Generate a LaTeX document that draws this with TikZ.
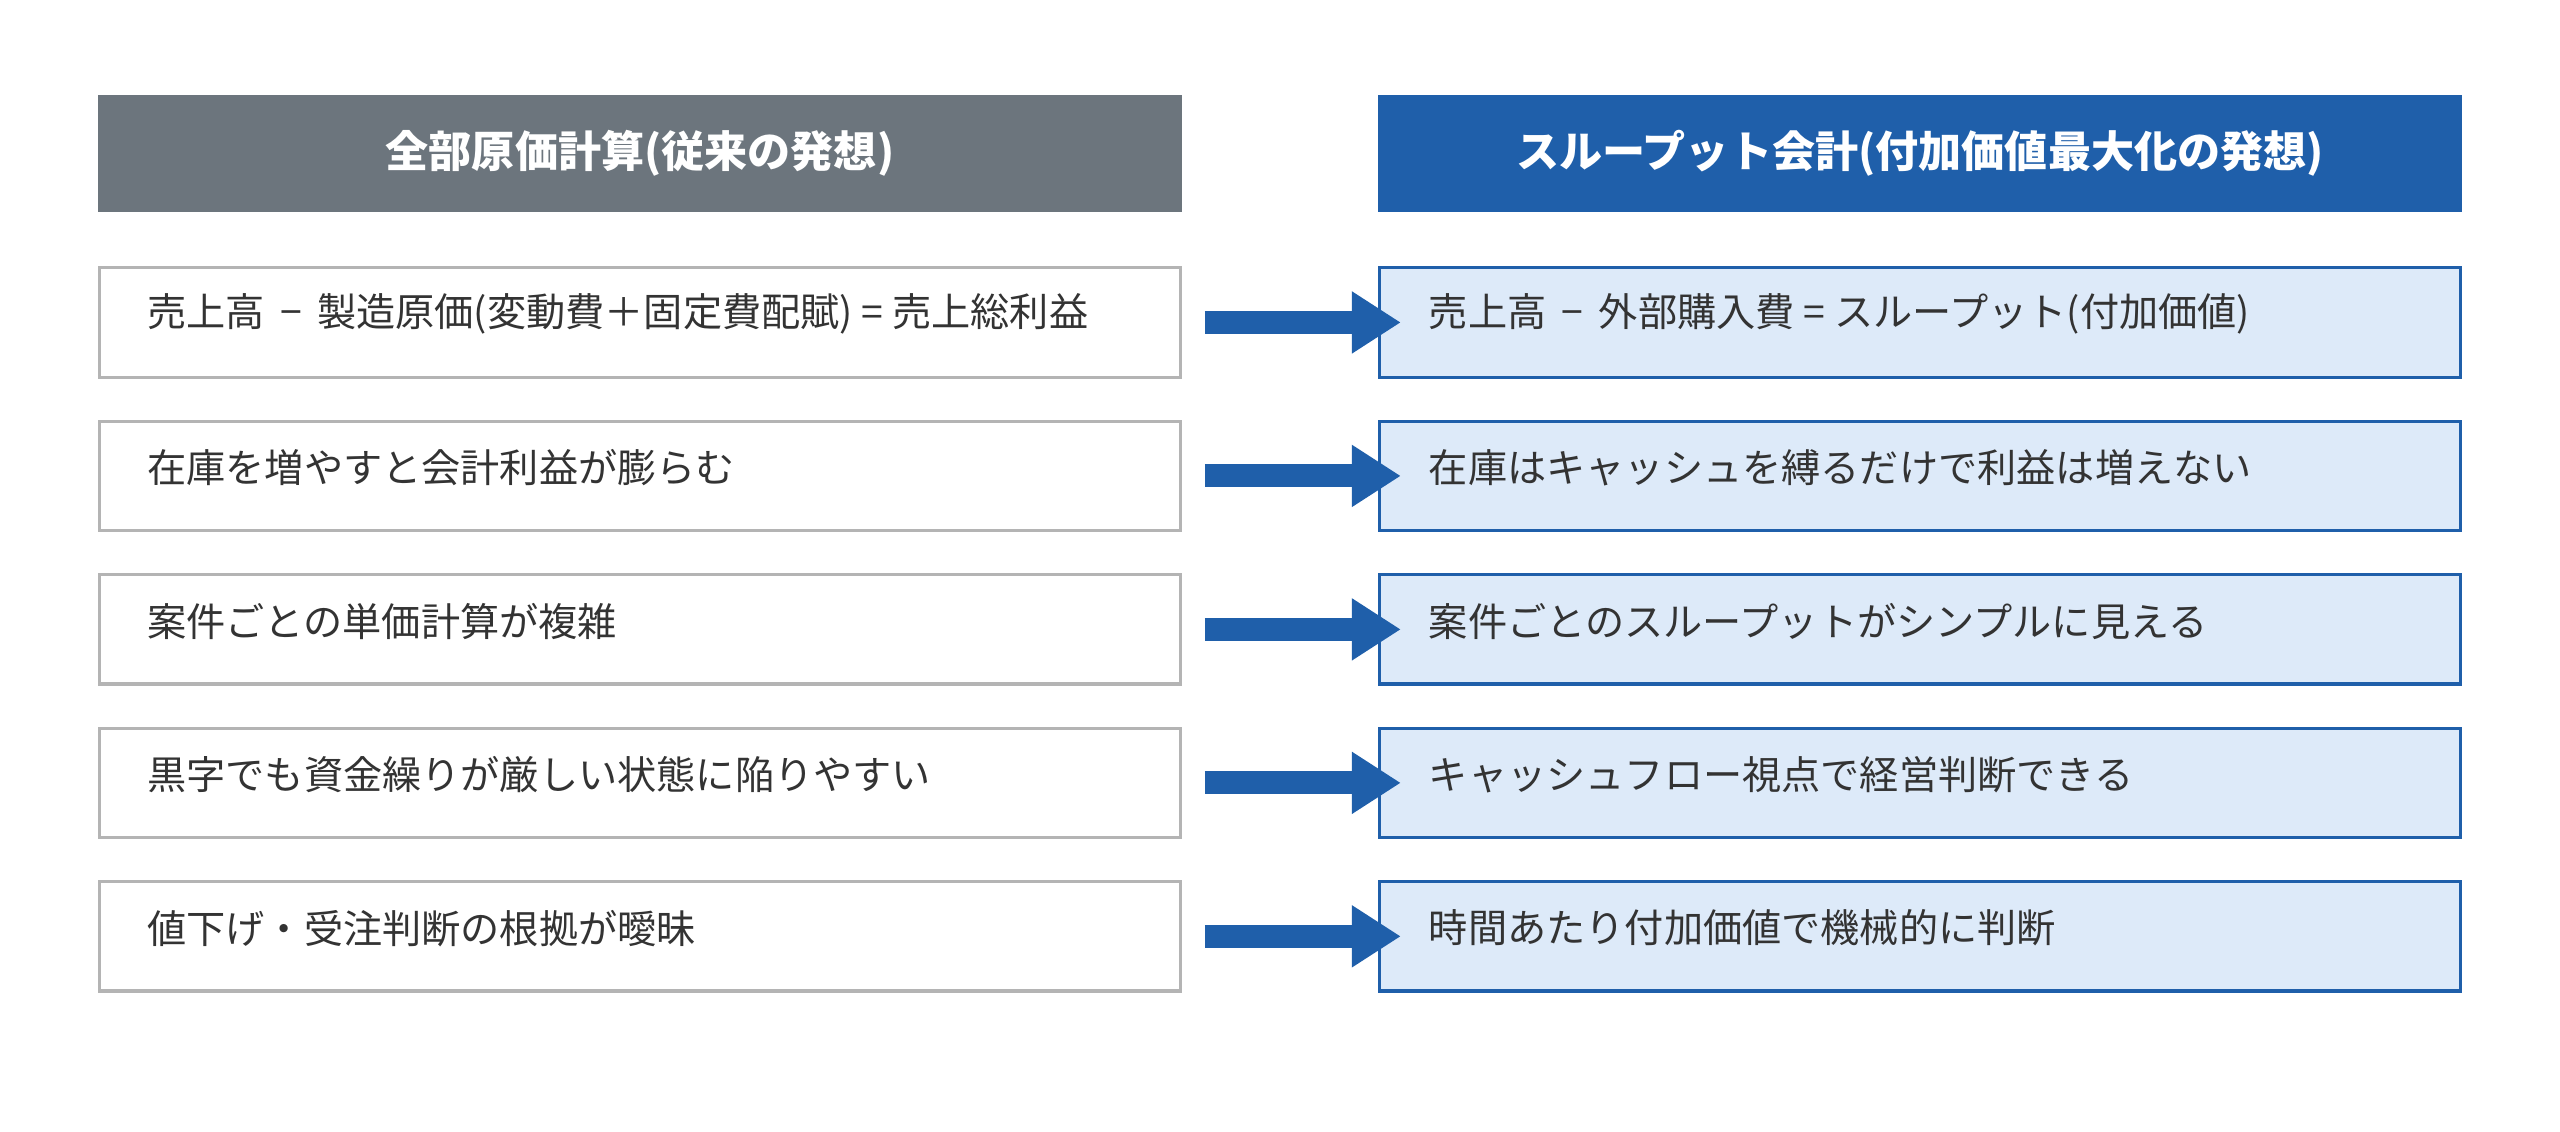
\documentclass[tikz,border=0pt]{standalone}
\usepackage{fontspec}
\setmainfont{Noto Sans CJK JP}
\usetikzlibrary{arrows.meta}
\definecolor{hgray}{HTML}{6C757D}
\definecolor{hblue}{HTML}{1F5FAA}
\definecolor{lblue}{HTML}{DDEAF9}
\definecolor{bgray}{HTML}{B4B4B4}
\begin{document}
\begin{tikzpicture}[x=1pt,y=-1pt,
  hdr/.style={minimum width=664pt,minimum height=72pt,inner sep=0pt,text=white,font=\fontsize{26.4}{30}\selectfont\bfseries},
  lbox/.style={draw=bgray,line width=2pt,fill=white,minimum width=662pt,minimum height=67pt,inner sep=0pt},
  rbox/.style={draw=hblue,line width=2pt,fill=lblue,minimum width=662pt,minimum height=67pt,inner sep=0pt},
  txt/.style={anchor=west,font=\fontsize{24}{28}\selectfont,text=black!80,inner sep=0pt},
  arr/.style={draw=hblue,line width=14pt,-{Triangle[length=30pt,width=36pt]}}]
\useasboundingbox (0,0) rectangle (1568,693);
\node[hdr,fill=hgray] (hl) at (392,94) {全部原価計算(従来の発想)};
\node[hdr,fill=hblue] (hr) at (1176,94) {スループット会計(付加価値最大化の発想)};
\node[hdr] at (392,96) {};
\foreach \i/\l/\r in {
 1/{売上高\ \,−\ \,製造原価(変動費＋固定費配賦)\ =\ 売上総利益}/{売上高\ \,−\ \,外部購入費\ =\ スループット(付加価値)},
 2/{在庫を増やすと会計利益が膨らむ}/{在庫はキャッシュを縛るだけで利益は増えない},
 3/{案件ごとの単価計算が複雑}/{案件ごとのスループットがシンプルに見える},
 4/{黒字でも資金繰りが厳しい状態に陥りやすい}/{キャッシュフロー視点で経営判断できる},
 5/{値下げ・受注判断の根拠が曖昧}/{時間あたり付加価値で機械的に判断}}{
  \pgfmathsetmacro\yy{197.5+94*(\i-1)}
  \node[lbox] (l\i) at (392,\yy) {};
  \node[rbox] (r\i) at (1176,\yy) {};
  \node[txt] (lt\i) at (90,\yy-5) {\l};
  \node[txt] (rt\i) at (875,\yy-5) {\r};
  \draw[arr] ([xshift=14pt]l\i.east) -- ([xshift=14pt]r\i.west);
}
\end{tikzpicture}
\end{document}
